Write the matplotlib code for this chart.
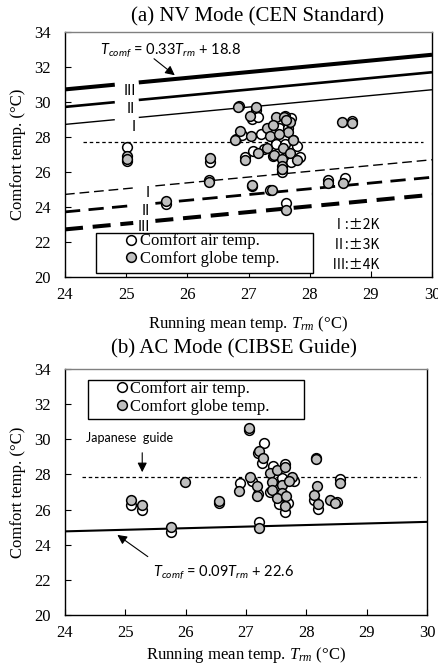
import numpy as np
import matplotlib
matplotlib.use("Agg")
import matplotlib.pyplot as plt
from matplotlib.patches import Rectangle

plt.rcParams['font.family'] = 'Liberation Serif'
plt.rcParams['mathtext.fontset'] = 'custom'
plt.rcParams['mathtext.rm'] = 'Liberation Serif'
plt.rcParams['mathtext.it'] = 'Liberation Serif:italic'
plt.rcParams['mathtext.sf'] = 'Lato:italic'
plt.rcParams['lines.scale_dashes'] = False

# (a) NV mode data
nv_air_x = [25.02, 25.02, 25.65, 26.35, 26.37, 26.85, 27.13, 27.05, 27.16, 26.8, 26.9,
            27.05, 27.35, 27.61, 26.94, 27.07, 27.25, 27.45, 27.55, 27.55, 27.7, 27.6,
            27.84, 27.73, 27.5, 27.65, 27.6, 27.8, 28.69, 28.3, 28.57, 27.4, 27.7, 27.2]
nv_air_y = [27.45, 26.65, 24.17, 25.55, 26.6, 29.78, 29.55, 29.05, 29.12, 27.9, 28.1,
            25.2, 25.0, 24.25, 26.85, 27.2, 27.3, 27.6, 26.02, 26.2, 29.1, 29.2,
            26.87, 27.83, 28.5, 28.5, 27.6, 27.5, 28.93, 25.52, 25.64, 26.9, 26.6, 28.2]
nv_globe_x = [25.02, 25.02, 25.65, 26.35, 26.37, 26.83, 27.13, 27.02, 26.86, 26.78, 27.04,
              27.06, 27.38, 27.61, 26.94, 27.16, 27.3, 27.41, 27.55, 27.56, 27.68, 27.79,
              27.55, 27.55, 27.45, 27.58, 27.68, 27.3, 27.4, 27.65, 27.35, 27.73, 27.5,
              28.53, 28.69, 28.3, 28.55, 27.62]
nv_globe_y = [26.9, 26.75, 24.36, 25.45, 26.8, 29.7, 29.7, 29.2, 28.36, 27.83, 28.06,
              25.26, 24.97, 23.83, 26.69, 27.07, 27.4, 27.0, 26.75, 27.4, 27.07, 26.69,
              26.35, 26.15, 29.15, 29.12, 28.87, 28.5, 28.7, 28.3, 28.06, 27.83, 28.2,
              28.84, 28.78, 25.39, 25.4, 29.0]
nv_slope, nv_intercept = 0.33, 18.8
nv_bands = [2, 3, 4]
nv_guide = 27.7

# (b) AC mode data
ac_air_x = [25.09, 25.27, 25.76, 26.56, 26.9, 27.05, 27.3, 27.26, 27.2, 27.1, 27.22,
            27.45, 27.65, 27.55, 27.65, 27.7, 27.8, 28.16, 28.56, 28.12, 28.2, 28.5,
            27.4, 27.6, 27.2]
ac_air_y = [26.26, 25.98, 24.74, 26.35, 27.5, 30.55, 29.77, 28.63, 29.2, 27.6, 25.31,
            28.5, 28.6, 26.3, 25.88, 26.4, 27.6, 28.92, 27.72, 26.55, 26.02, 26.45,
            27.0, 27.8, 26.9]
ac_globe_x = [25.09, 25.27, 25.76, 25.99, 26.56, 26.89, 27.05, 27.22, 27.28, 27.06, 27.19,
              27.18, 27.22, 27.39, 27.52, 27.65, 27.76, 27.43, 27.59, 27.72, 27.43, 27.59,
              27.52, 27.66, 27.65, 28.16, 28.56, 28.18, 28.12, 28.2, 28.4, 28.47]
ac_globe_y = [26.55, 26.26, 25.03, 27.55, 26.5, 27.05, 30.63, 29.35, 28.95, 27.87, 27.34,
              26.77, 24.93, 28.06, 28.25, 28.45, 27.87, 27.59, 27.4, 27.64, 27.11, 26.93,
              26.64, 26.77, 26.2, 28.86, 27.5, 27.34, 26.83, 26.32, 26.55, 26.4]
ac_slope, ac_intercept = 0.09, 22.6
ac_guide = 27.85

gray = '#bfbfbf'
sans = 'Lato'

fig = plt.figure(figsize=(4.39, 6.68), dpi=100)
ax1 = fig.add_axes([65/439, 1-277/668, 367/439, 245/668])
ax2 = fig.add_axes([65/439, 1-615/668, 362/439, 246/668])

def style_axes(ax, xpad):
    ax.set_xlim(24, 30)
    ax.set_ylim(20, 34)
    ax.set_xticks(range(24, 31))
    ax.set_yticks(range(20, 35, 2))
    ax.tick_params(direction='in', length=4, width=0.8, labelsize=12)
    ax.tick_params(axis='y', pad=10)
    ax.tick_params(axis='x', pad=7)
    for s in ax.spines.values():
        s.set_linewidth(1.0)
    ax.spines['top'].set_color('#808080')
    ax.set_xlabel('Running mean temp. $T_{rm}$ (\u00b0C)', fontsize=12, labelpad=xpad)
    ax.set_ylabel('Comfort temp. (\u00b0C)', fontsize=12, labelpad=6)

def scatter(ax, ax_x, ax_y, gx, gy):
    a, = ax.plot(ax_x, ax_y, 'o', ms=7, mfc='white', mec='black', mew=1.1, zorder=5,
                 label='Comfort air temp.')
    g, = ax.plot(gx, gy, 'o', ms=7, mfc=gray, mec='black', mew=1.1, zorder=6,
                 label='Comfort globe temp.')
    return a, g

# ---- (a)
style_axes(ax1, 8)
x = np.linspace(24, 30, 200)
upper_widths = {2: 1.0, 3: 1.9, 4: 2.9}
lower_styles = {2: (1.0, (7, 3.5)), 3: (2.0, (11, 6)), 4: (2.9, (13, 7))}
for k in nv_bands:
    yu = nv_slope * x + nv_intercept + k
    yu = np.where((x > 24.82) & (x < 25.2), np.nan, yu)
    ax1.plot(x, yu, color='black', lw=upper_widths[k], solid_capstyle='butt', zorder=2)
    yl = nv_slope * x + nv_intercept - k
    yl = np.where((x > 25.12) & (x < 25.45), np.nan, yl)
    lw, dash = lower_styles[k]
    ax1.plot(x, yl, color='black', lw=lw, dashes=dash, dash_capstyle='butt', zorder=2)
ax1.plot([24.29, 29.85], [nv_guide, nv_guide], color='black', lw=0.9, dashes=(2.5, 2), zorder=2)

for lab, xx, yy in [('III', 25.06, 30.61), ('II', 25.08, 29.6), ('I', 25.13, 28.59),
                    ('I', 25.36, 24.78), ('II', 25.32, 23.78), ('III', 25.29, 22.88)]:
    ax1.text(xx, yy, lab, fontsize=10.5, family=sans, ha='center', va='center', zorder=3)

ax1.text(24.57, 32.97, r'$\mathsf{T_{comf}}$ = 0.33$\mathsf{T_{rm}}$ + 18.8',
         family=sans, fontsize=10.5, va='center', ha='left')
ax1.annotate('', xy=(25.83, 31.43), xytext=(25.42, 32.57),
             arrowprops=dict(arrowstyle='-|>', color='black', lw=0.8, mutation_scale=14))

for row, txt in enumerate(['\u2160:\u00b12K', '\u2161:\u00b13K', '\u2162:\u00b14K']):
    ax1.text(28.36, 22.97 - 1.14 * row, txt, fontsize=10,
             family=['Noto Sans CJK JP', 'DejaVu Sans'], va='center', ha='left')

h1 = scatter(ax1, nv_air_x, nv_air_y, nv_globe_x, nv_globe_y)
ax1.add_patch(Rectangle((0.084, 0.016), 0.592, 0.164, transform=ax1.transAxes,
                        facecolor='white', edgecolor='black', lw=1.0, zorder=7))
leg1 = ax1.legend(handles=h1, loc='upper left', bbox_to_anchor=(0.157, 0.178),
                  frameon=False, fontsize=12, borderpad=0, borderaxespad=0,
                  handlelength=1.0, handletextpad=0.05, labelspacing=0.1)
leg1.set_zorder(8)
fig.text(258/439, 1-17/668, '(a) NV Mode (CEN Standard)', fontsize=15, ha='center', va='center')

# ---- (b)
style_axes(ax2, 3)
ax2.plot(x, ac_slope * x + ac_intercept, color='black', lw=1.5, zorder=2)
ax2.plot([24.28, 29.88], [ac_guide, ac_guide], color='black', lw=0.9, dashes=(2.5, 2), zorder=2)
ax2.text(24.34, 30.06, 'Japanese  guide', family=sans, fontsize=9, ha='left', va='center')
ax2.annotate('', xy=(25.28, 27.97), xytext=(25.28, 29.39),
             arrowprops=dict(arrowstyle='-|>', color='black', lw=0.8, mutation_scale=14))
ax2.text(25.46, 22.46, r'$\mathsf{T_{comf}}$ = 0.09$\mathsf{T_{rm}}$ + 22.6',
         family=sans, fontsize=10.5, va='center', ha='left')
ax2.annotate('', xy=(24.83, 24.65), xytext=(25.41, 23.23),
             arrowprops=dict(arrowstyle='-|>', color='black', lw=0.8, mutation_scale=14))

h2 = scatter(ax2, ac_air_x, ac_air_y, ac_globe_x, ac_globe_y)
ax2.add_patch(Rectangle((0.064, 0.797), 0.596, 0.158, transform=ax2.transAxes,
                        facecolor='white', edgecolor='black', lw=1.0, zorder=7))
leg2 = ax2.legend(handles=h2, loc='upper left', bbox_to_anchor=(0.134, 0.951),
                  frameon=False, fontsize=12, borderpad=0, borderaxespad=0,
                  handlelength=1.0, handletextpad=0.0, labelspacing=0.1)
leg2.set_zorder(8)
fig.text(234/439, 1-349/668, '(b) AC Mode (CIBSE Guide)', fontsize=15, ha='center', va='center')

fig.savefig('out.png', dpi=100)
